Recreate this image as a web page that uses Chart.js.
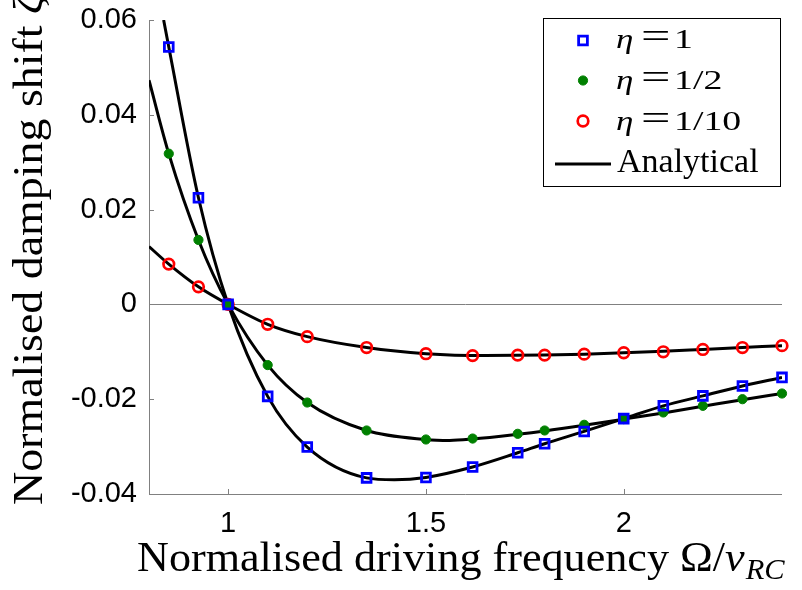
<!DOCTYPE html>
<html><head><meta charset="utf-8">
<script src="https://cdn.jsdelivr.net/npm/chart.js@4/dist/chart.umd.min.js"></script>
<style>html,body{margin:0;padding:0;background:#fff;}#wrap{width:802px;height:590px;position:relative;}</style>
</head><body><div id="wrap"><canvas id="c" width="802" height="590"></canvas></div>
<script>
// ---- data ----
const xData = [0.85, 0.925, 1.0, 1.1, 1.2, 1.35, 1.5, 1.618, 1.732, 1.8, 1.9, 2.0, 2.1, 2.2, 2.3, 2.4];
const eta1  = [0.0543, 0.0225, 0, -0.0194, -0.0301, -0.0366, -0.0365, -0.0343, -0.0313, -0.0294, -0.0268, -0.0241, -0.0214, -0.0193, -0.0172, -0.0154];
const eta2  = [0.0318, 0.0136, 0, -0.0128, -0.0207, -0.0266, -0.0285, -0.0283, -0.0273, -0.0266, -0.0254, -0.0242, -0.0228, -0.0214, -0.0200, -0.0188];
const eta10 = [0.0085, 0.0037, 0, -0.0042, -0.0068, -0.0091, -0.0104, -0.0108, -0.0107, -0.0107, -0.0105, -0.0102, -0.0100, -0.0095, -0.0091, -0.0087];

const curve1X = [0.837, 0.85, 0.925, 1.0, 1.1, 1.2, 1.35, 1.42, 1.5, 1.618, 1.732, 1.8, 1.9, 2.0, 2.1, 2.2, 2.3, 2.4];
const curve1Y = [0.060, 0.0543, 0.0225, 0, -0.0194, -0.0301, -0.0366, -0.0370, -0.0365, -0.0343, -0.0313, -0.0294, -0.0268, -0.0241, -0.0214, -0.0193, -0.0172, -0.0154];
const curve2X = [0.8, 0.85, 0.925, 1.0, 1.1, 1.2, 1.35, 1.5, 1.56, 1.618, 1.732, 1.8, 1.9, 2.0, 2.1, 2.2, 2.3, 2.4];
const curve2Y = [0.0473, 0.0318, 0.0136, 0, -0.0128, -0.0207, -0.0266, -0.0285, -0.0287, -0.0284, -0.0274, -0.0267, -0.0255, -0.0242, -0.0229, -0.0215, -0.0201, -0.0188];
const curve3X = [0.8, 0.85, 0.925, 1.0, 1.1, 1.2, 1.35, 1.5, 1.65, 1.8, 1.9, 2.0, 2.1, 2.2, 2.3, 2.4];
const curve3Y = [0.0122, 0.0085, 0.0037, 0, -0.0042, -0.0068, -0.0091, -0.0104, -0.0108, -0.0107, -0.0105, -0.0102, -0.0099, -0.0095, -0.0091, -0.0087];

const xTicks = [1, 1.5, 2];
const xTickLabels = ['1', '1.5', '2'];
const yTicks = [-0.04, -0.02, 0, 0.02, 0.04, 0.06];
const yTickLabels = ['-0.04', '-0.02', '0', '0.02', '0.04', '0.06'];

const legendLabels = [['\u03B7', '=', '1'], ['\u03B7', '=', '1/2'], ['\u03B7', '=', '1/10'], 'Analytical'];
const xTitle = ['Normalised driving frequency ', '\u03A9/', '\u03BD', 'RC'];
const yTitle = ['Normalised damping shift ', '\u03B6'];

// ---- helpers ----
const zip = (xs, ys) => xs.map((x, i) => ({x: x, y: ys[i]}));
const AX = '#808080';
const SERIF = '"Liberation Serif", "Times New Roman", serif';
const SANS = '"Liberation Sans", Arial, sans-serif';

const markerSets = [
  {data: zip(xData, eta1), pointStyle: 'rect', pointRadius: 6.2, borderColor: '#0000ff', backgroundColor: 'rgba(0,0,0,0)', pointBorderWidth: 2.8},
  {data: zip(xData, eta2), pointStyle: 'circle', pointRadius: 4.6, borderColor: '#008000', backgroundColor: '#008000', pointBorderWidth: 1},
  {data: zip(xData, eta10), pointStyle: 'circle', pointRadius: 5.3, borderColor: '#ff0000', backgroundColor: 'rgba(0,0,0,0)', pointBorderWidth: 2.7}
].map(d => Object.assign({showLine: false, clip: false, pointBackgroundColor: d.backgroundColor, pointBorderColor: d.borderColor, pointHoverRadius: d.pointRadius}, d));

const lineSets = [zip(curve1X, curve1Y), zip(curve2X, curve2Y), zip(curve3X, curve3Y)].map(d => ({
  data: d, showLine: true, borderColor: '#000', borderWidth: 3, pointRadius: 0, pointHoverRadius: 0,
  cubicInterpolationMode: 'monotone', fill: false
}));

function scaledText(ctx, text, x, y, font, sx) {
  ctx.save();
  ctx.translate(x, y);
  ctx.scale(sx, 1);
  ctx.font = font;
  ctx.fillText(text, 0, 0);
  ctx.restore();
}

const decor = {
  id: 'decor',
  beforeDatasetsDraw(chart) {
    const {ctx, chartArea: a, scales: {x, y}} = chart;
    ctx.save();
    ctx.strokeStyle = AX;
    ctx.lineWidth = 1;
    ctx.beginPath();
    ctx.moveTo(a.left + 0.5, a.top);
    ctx.lineTo(a.left + 0.5, a.bottom + 0.5);
    ctx.lineTo(a.right, a.bottom + 0.5);
    const y0 = Math.round(y.getPixelForValue(0)) + 0.5;
    ctx.moveTo(a.left, y0);
    ctx.lineTo(a.right, y0);
    yTicks.forEach(v => {
      const py = Math.round(y.getPixelForValue(v)) + 0.5;
      ctx.moveTo(a.left, py); ctx.lineTo(a.left + 5, py);
    });
    xTicks.forEach(v => {
      const px = Math.round(x.getPixelForValue(v)) + 0.5;
      ctx.moveTo(px, a.bottom); ctx.lineTo(px, a.bottom - 5);
    });
    ctx.stroke();
    ctx.restore();
  },
  afterDraw(chart) {
    const {ctx} = chart;
    ctx.save();
    ctx.fillStyle = '#000';
    ctx.textBaseline = 'alphabetic';
    ctx.textAlign = 'left';
    // x title: main words stretched to span 137..680 as in the reference
    ctx.font = '42px ' + SERIF;
    const wx = ctx.measureText(xTitle[0]).width;
    const sxX = 543 / wx;
    ctx.save();
    ctx.translate(137, 571);
    ctx.scale(sxX, 1);
    let px = 0;
    ctx.fillText(xTitle[0], px, 0); px += wx;
    ctx.fillText(xTitle[1], px, 0); px += ctx.measureText(xTitle[1]).width;
    ctx.font = 'italic 42px ' + SERIF;
    ctx.fillText(xTitle[2], px, 0); px += ctx.measureText(xTitle[2]).width;
    ctx.font = 'italic 29px ' + SERIF;
    ctx.fillText(xTitle[3], px + 1, 8);
    ctx.restore();
    // y title
    ctx.save();
    ctx.translate(42, 505);
    ctx.rotate(-Math.PI / 2);
    ctx.font = '42px ' + SERIF;
    const wy = ctx.measureText(yTitle[0]).width;
    ctx.scale(491 / wy, 1);
    ctx.fillText(yTitle[0], 0, 0);
    ctx.font = 'italic 42px ' + SERIF;
    ctx.fillText(yTitle[1], wy, 0);
    ctx.restore();

    // legend
    const L = 543.5, T = 18.5, R = 780.5, B = 186.5;
    ctx.fillStyle = '#fff';
    ctx.fillRect(L, T, R - L, B - T);
    ctx.strokeStyle = '#000';
    ctx.lineWidth = 1;
    ctx.strokeRect(L, T, R - L, B - T);
    const rowsY = [40.5, 80.5, 121];
    const base = [48, 89, 130];
    markerSets.forEach((m, i) => {
      ctx.save();
      ctx.strokeStyle = m.borderColor;
      ctx.fillStyle = m.backgroundColor;
      ctx.lineWidth = m.pointBorderWidth;
      Chart.helpers.drawPoint(ctx, {pointStyle: m.pointStyle, radius: m.pointRadius, borderWidth: m.pointBorderWidth, rotation: 0}, 583, rowsY[i]);
      ctx.restore();
      const lab = legendLabels[i];
      ctx.fillStyle = '#000';
      scaledText(ctx, lab[0], 616, base[i], 'italic 27px ' + SERIF, 1.3);
      scaledText(ctx, lab[1], 641, base[i], '36px ' + SERIF, 1.45);
      scaledText(ctx, lab[2], 674, base[i], '27px ' + SERIF, 1.4);
    });
    ctx.strokeStyle = '#000';
    ctx.lineWidth = 3;
    ctx.beginPath();
    ctx.moveTo(555, 164); ctx.lineTo(611, 164);
    ctx.stroke();
    ctx.fillStyle = '#000';
    ctx.font = '34px ' + SERIF;
    ctx.fillText(legendLabels[3], 617, 172);
    ctx.restore();
  }
};

new Chart(document.getElementById('c'), {
  type: 'scatter',
  data: {datasets: markerSets.concat(lineSets)},
  options: {
    responsive: false,
    animation: false,
    devicePixelRatio: 1,
    layout: {padding: {top: 20, right: 20, left: 0, bottom: 0}},
    plugins: {legend: {display: false}, tooltip: {enabled: false}, title: {display: false}},
    scales: {
      x: {
        type: 'linear', min: 0.8, max: 2.4,
        grid: {display: false, drawTicks: false}, border: {display: false},
        afterBuildTicks: s => { s.ticks = xTicks.map(v => ({value: v})); },
        afterFit: s => { s.height = 96; s.paddingLeft = 0; s.paddingRight = 0; },
        ticks: {autoSkip: false, maxRotation: 0, padding: 13, color: '#000', font: {family: SANS, size: 29},
          callback: (v) => xTickLabels[xTicks.indexOf(v)]}
      },
      y: {
        type: 'linear', min: -0.04, max: 0.06,
        grid: {display: false, drawTicks: false}, border: {display: false},
        afterBuildTicks: s => { s.ticks = yTicks.map(v => ({value: v})); },
        afterFit: s => { s.width = 149; s.paddingTop = 0; s.paddingBottom = 0; },
        ticks: {autoSkip: false, padding: 12, color: '#000', font: {family: SANS, size: 29},
          callback: (v) => yTickLabels[yTicks.indexOf(v)]}
      }
    }
  },
  plugins: [decor]
});
</script></body></html>
